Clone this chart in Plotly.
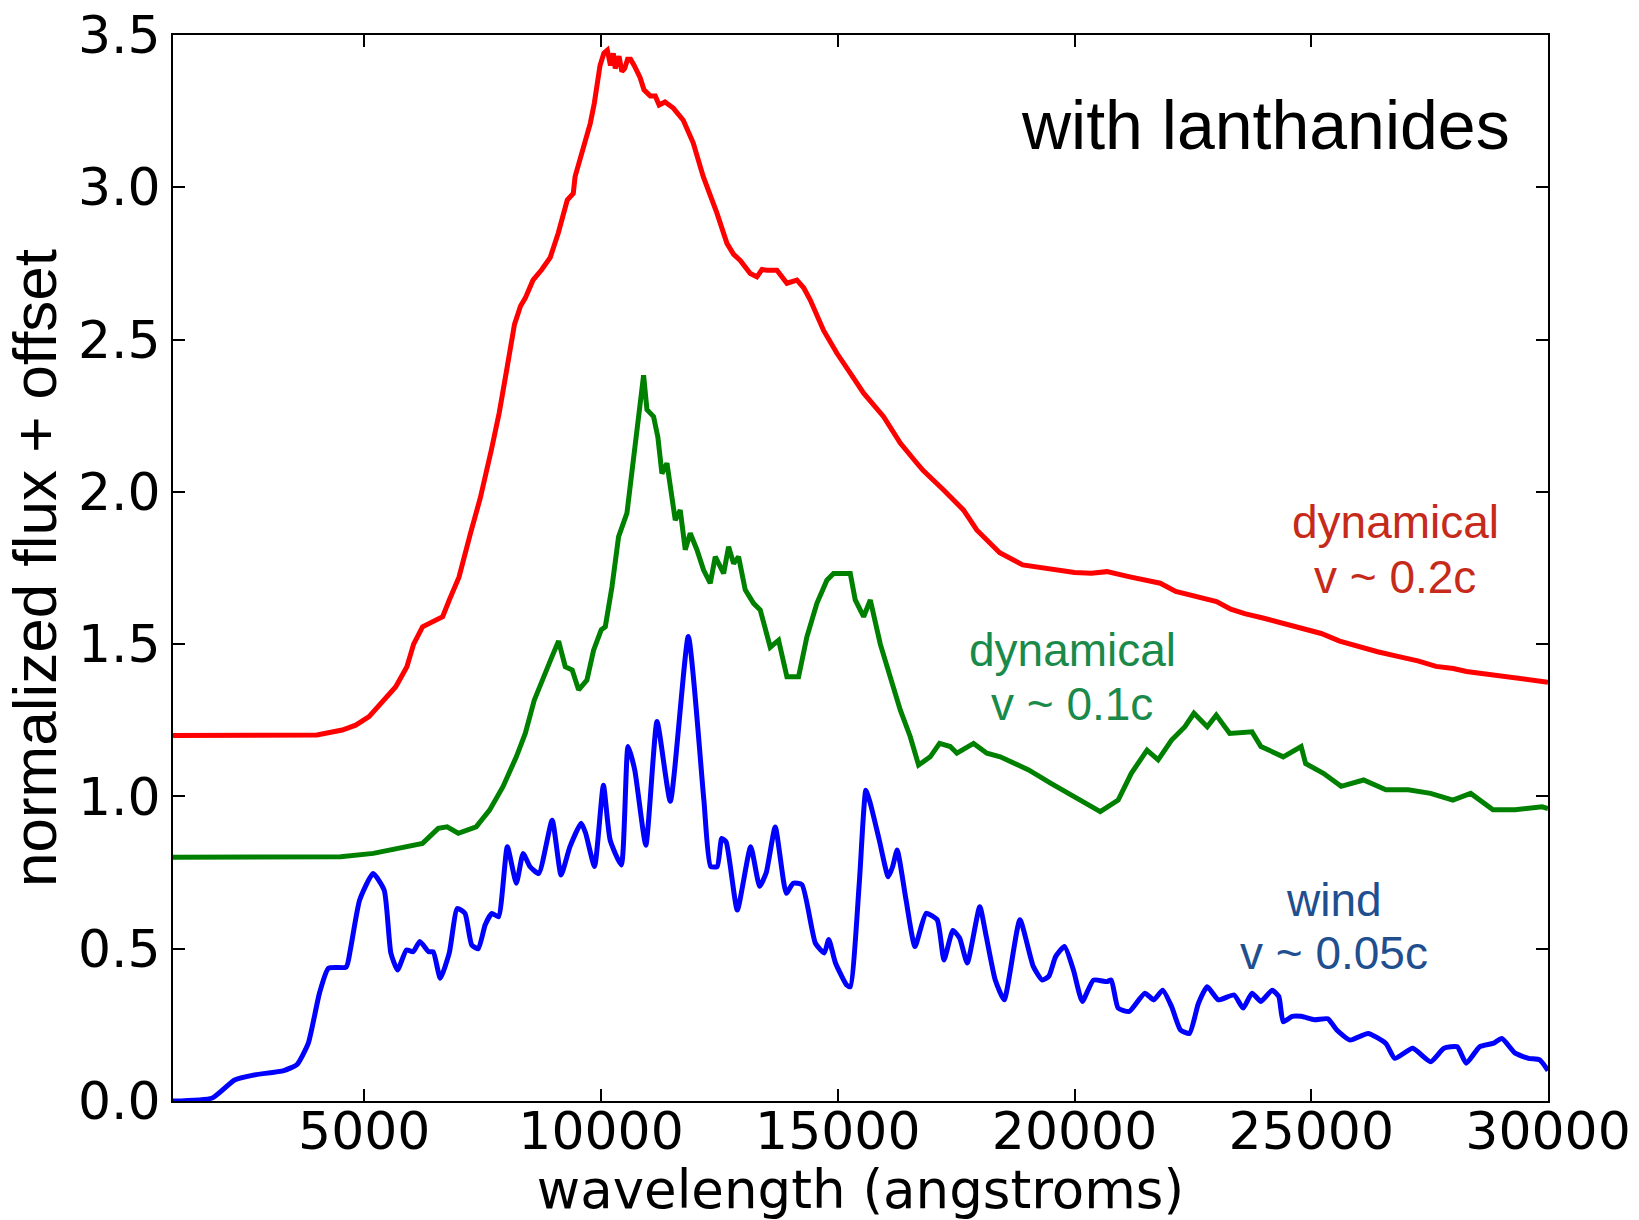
import plotly.graph_objects as go

# ---- data ----
red_x = [960, 2000, 3000, 4000, 4535, 4818, 5101, 5380, 5665, 5900, 6042, 6230, 6514, 6655, 6795,
         7000, 7245, 7450, 7687, 7850, 8018, 8172, 8300, 8400, 8563, 8750, 8928, 9097, 9287, 9414,
         9452, 9690, 9773, 9858, 9979, 10060, 10133, 10200, 10260, 10300, 10380, 10440, 10500,
         10560, 10624, 10700, 10826, 10907, 11040, 11146, 11227, 11350, 11526, 11737, 11948,
         12159, 12362, 12448, 12659, 12800, 12940, 13152, 13292, 13400, 13503, 13715, 13926,
         14137, 14280, 14419, 14700, 14982, 15264, 15546, 15968, 16320, 16672, 16805, 17235,
         17657, 17935, 18200, 18420, 18906, 19171, 19551, 20000, 20354, 20685, 21168, 21500,
         21811, 22138, 22450, 22783, 23000, 23300, 23593, 24000, 24402, 24800, 25210, 25600,
         26013, 26400, 26826, 27250, 27635, 28000, 28278, 28765, 29300, 29700, 30000]
red_y = [1.200, 1.200, 1.200, 1.202, 1.218, 1.234, 1.262, 1.31, 1.36, 1.426, 1.50, 1.557, 1.578,
         1.59, 1.645, 1.72, 1.865, 1.98, 2.14, 2.26, 2.41, 2.55, 2.61, 2.636, 2.695, 2.73, 2.77,
         2.85, 2.958, 2.98, 3.035, 3.166, 3.21, 3.276, 3.40, 3.44, 3.45, 3.40, 3.44, 3.39, 3.43,
         3.38, 3.39, 3.42, 3.42, 3.40, 3.36, 3.32, 3.30, 3.30, 3.27, 3.28, 3.26, 3.22, 3.145,
         3.035, 2.958, 2.915, 2.816, 2.78, 2.76, 2.717, 2.706, 2.73, 2.728, 2.728, 2.685, 2.695,
         2.67, 2.63, 2.53, 2.455, 2.39, 2.324, 2.247, 2.16, 2.094, 2.07, 2.006, 1.94, 1.875,
         1.835, 1.80, 1.76, 1.754, 1.743, 1.735, 1.733, 1.738, 1.721, 1.712, 1.70, 1.673, 1.66,
         1.645, 1.64, 1.615, 1.60, 1.585, 1.568, 1.55, 1.535, 1.51, 1.49, 1.475, 1.46, 1.445,
         1.427, 1.42, 1.41, 1.40, 1.39, 1.38, 1.375]

green_x = [960, 3000, 4500, 5190, 5760, 6230, 6562, 6750, 6985, 7363, 7646, 7929, 8211, 8400,
           8590, 8778, 8966, 9104, 9245, 9391, 9526, 9702, 9843, 10004, 10090, 10231, 10371,
           10547, 10653, 10794, 10899, 10970, 11110, 11200, 11286, 11392, 11568, 11673, 11779,
           11884, 12025, 12166, 12307, 12413, 12589, 12694, 12800, 12905, 13046, 13222, 13363,
           13574, 13750, 13926, 14172, 14348, 14559, 14770, 14911, 15264, 15369, 15546, 15687,
           15898, 16109, 16320, 16531, 16707, 16953, 17150, 17375, 17516, 17868, 18149, 18432,
           18559, 19031, 19502, 19973, 20544, 20922, 21200, 21531, 21766, 22050, 22332, 22522,
           22803, 22993, 23278, 23749, 23937, 24408, 24786, 24881, 25256, 25632, 26105, 26576,
           27047, 27520, 27991, 28367, 28838, 29307, 29877, 30000]
green_y = [0.800, 0.800, 0.802, 0.813, 0.83, 0.846, 0.895, 0.90, 0.879, 0.90, 0.955, 1.032, 1.13,
           1.207, 1.316, 1.393, 1.46, 1.51, 1.426, 1.415, 1.35, 1.382, 1.48, 1.547, 1.557, 1.688,
           1.853, 1.93, 2.07, 2.258, 2.383, 2.27, 2.247, 2.18, 2.06, 2.094, 1.907, 1.94, 1.81,
           1.864, 1.81, 1.743, 1.70, 1.787, 1.732, 1.82, 1.765, 1.787, 1.678, 1.634, 1.612, 1.49,
           1.513, 1.393, 1.393, 1.524, 1.634, 1.71, 1.732, 1.732, 1.645, 1.59, 1.645, 1.50, 1.393,
           1.284, 1.196, 1.103, 1.13, 1.174, 1.164, 1.142, 1.174, 1.142, 1.13, 1.12, 1.087, 1.043,
           0.999, 0.95, 0.988, 1.076, 1.152, 1.12, 1.185, 1.229, 1.273, 1.229, 1.267, 1.207,
           1.212, 1.164, 1.13, 1.164, 1.108, 1.076, 1.033, 1.054, 1.022, 1.022, 1.01, 0.988, 1.01,
           0.956, 0.956, 0.966, 0.96]

blue_x = [960, 1790, 2261, 2656, 3300, 3581, 3818, 4053, 4243, 4619, 4705, 4902, 5185, 5421,
          5561, 5703, 5891, 6033, 6173, 6362, 6456, 6605, 6795, 6964, 7127, 7269, 7409, 7552,
          7694, 7835, 8021, 8211, 8355, 8497, 8685, 8968, 9156, 9344, 9580, 9674, 9863, 10050,
          10192, 10428, 10570, 10712, 10946, 11183, 11463, 11843, 12172, 12314, 12455, 12549,
          12643, 12878, 13161, 13350, 13490, 13680, 13912, 14057, 14245, 14528, 14714, 14810,
          14952, 15187, 15264, 15454, 15594, 15686, 15876, 16066, 16160, 16254, 16442, 16630,
          16866, 17100, 17243, 17431, 17573, 17735, 17999, 18136, 18326, 18515, 18846, 19129,
          19318, 19459, 19601, 19789, 19977, 20164, 20400, 20683, 20777, 20921, 21156, 21485,
          21673, 21862, 22050, 22238, 22428, 22616, 22803, 23040, 23371, 23559, 23749, 23937,
          24173, 24315, 24408, 24599, 24786, 25068, 25350, 25539, 25820, 26200, 26576, 26764,
          27142, 27520, 27802, 28084, 28273, 28555, 28838, 29026, 29307, 29590, 29825, 30000]
blue_y = [0.0, 0.01, 0.069, 0.085, 0.10, 0.12, 0.19, 0.354, 0.436, 0.44, 0.496, 0.66, 0.747,
          0.692, 0.486, 0.43, 0.496, 0.49, 0.524, 0.49, 0.49, 0.403, 0.486, 0.632, 0.616, 0.512,
          0.50, 0.578, 0.616, 0.605, 0.835, 0.715, 0.813, 0.77, 0.747, 0.922, 0.742, 0.835,
          0.912, 0.88, 0.77, 1.037, 0.857, 0.775, 1.164, 1.087, 0.84, 1.246, 0.984, 1.525, 0.988,
          0.77, 0.77, 0.862, 0.85, 0.627, 0.835, 0.705, 0.75, 0.90, 0.682, 0.715, 0.71, 0.518,
          0.486, 0.53, 0.453, 0.381, 0.375, 0.715, 1.02, 0.978, 0.857, 0.736, 0.77, 0.824, 0.66,
          0.507, 0.616, 0.595, 0.463, 0.56, 0.535, 0.453, 0.638, 0.54, 0.397, 0.332, 0.595,
          0.442, 0.397, 0.41, 0.474, 0.507, 0.43, 0.327, 0.397, 0.392, 0.397, 0.305, 0.294,
          0.354, 0.332, 0.364, 0.31, 0.233, 0.222, 0.32, 0.375, 0.332, 0.348, 0.305, 0.354,
          0.327, 0.364, 0.343, 0.26, 0.278, 0.278, 0.267, 0.27, 0.233, 0.20, 0.222, 0.189, 0.14,
          0.173, 0.129, 0.173, 0.178, 0.124, 0.178, 0.189, 0.205, 0.157, 0.14, 0.135, 0.10]

x_ticks = [5000, 10000, 15000, 20000, 25000, 30000]
y_ticks = [0.0, 0.5, 1.0, 1.5, 2.0, 2.5, 3.0, 3.5]

# label lines: (text, x, y, colour)
label_lines = [
    ("dynamical", 26772, 1.902, "#c62a1a"),
    ("v ~ 0.2c", 26772, 1.720, "#c62a1a"),
    ("dynamical", 19950, 1.482, "#1a8a4a"),
    ("v ~ 0.1c", 19950, 1.305, "#1a8a4a"),
    ("wind", 25470, 0.661, "#1f4f8f"),
    ("v ~ 0.05c", 25470, 0.485, "#1f4f8f"),
]

fig = go.Figure()
fig.add_trace(go.Scatter(x=red_x, y=red_y, mode="lines", line=dict(color="#ff0000", width=5)))
fig.add_trace(go.Scatter(x=green_x, y=green_y, mode="lines", line=dict(color="#008000", width=5)))
fig.add_trace(go.Scatter(x=blue_x, y=blue_y, mode="lines",
                         line=dict(color="#0000ff", width=5, shape="spline", smoothing=0.5)))

axis_common = dict(showgrid=False, zeroline=False, showline=True, linecolor="black", linewidth=2,
                   mirror="ticks", ticks="inside", ticklen=12, tickwidth=1.5, tickcolor="black",
                   automargin=False,
                   tickfont=dict(family="DejaVu Sans", size=52, color="black"))

fig.update_layout(
    width=1639, height=1220,
    margin=dict(l=173, r=91, t=35, b=119),
    paper_bgcolor="white", plot_bgcolor="white",
    showlegend=False,
    xaxis=dict(range=[960, 30000], tickvals=x_ticks, tickformat="d", ticklabelstandoff=-16,
               title=dict(text="wavelength (angstroms)",
                          font=dict(family="DejaVu Sans", size=53, color="black"), standoff=16),
               **axis_common),
    yaxis=dict(range=[0, 3.5], tickvals=y_ticks, tickformat=".1f",
               title=dict(text="normalized flux + offset",
                          font=dict(family="Liberation Sans", size=62, color="black"), standoff=10),
               **axis_common),
)

fig.add_annotation(x=29230, y=3.205, xref="x", yref="y", text="with lanthanides", showarrow=False,
                   xanchor="right", yanchor="middle",
                   font=dict(family="Liberation Sans", size=68, color="black"))
for txt, lx, ly, col in label_lines:
    fig.add_annotation(x=lx, y=ly, xref="x", yref="y", text=txt, showarrow=False,
                       xanchor="center", yanchor="middle", align="center",
                       font=dict(family="Liberation Sans", size=46, color=col))

fig.write_html("out.html")
